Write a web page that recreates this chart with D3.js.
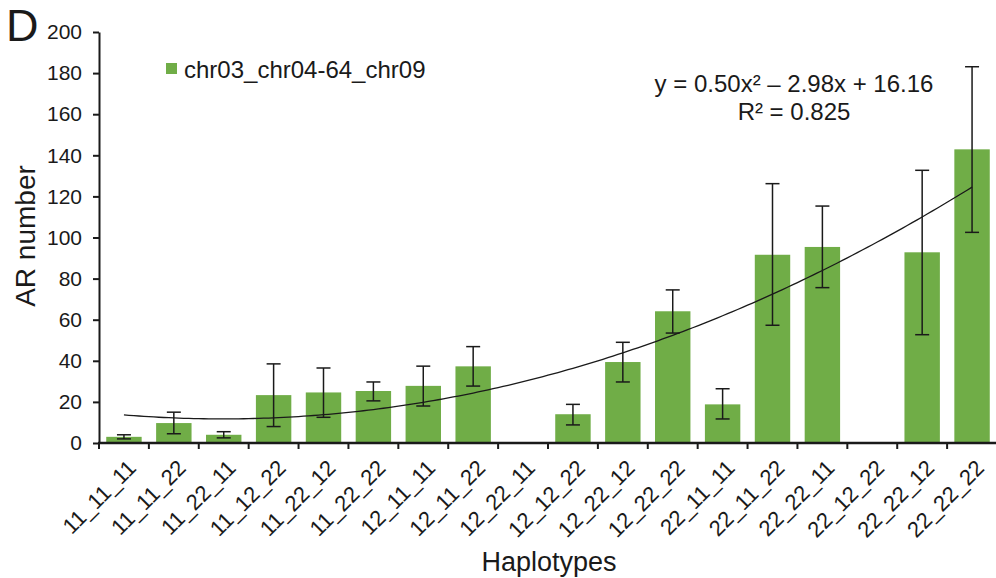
<!DOCTYPE html>
<html>
<head>
<meta charset="utf-8">
<script src="https://cdn.jsdelivr.net/npm/d3@7"></script>
<style>
  body { margin: 0; background: #fff; }
  svg text { font-family: "Liberation Sans", Arial, sans-serif; fill: #1a1a1a; }
</style>
</head>
<body>
<div id="chart"></div>
<script>
// haplotype categories
const haplotypes = ["11_11_11", "11_11_22", "11_22_11", "11_12_22", "11_22_12", "11_22_22",
  "12_11_11", "12_11_22", "12_22_11", "12_12_22", "12_22_12", "12_22_22",
  "22_11_11", "22_11_22", "22_22_11", "22_12_22", "22_22_12", "22_22_22"];
// mean AR number (null = no bar)
const meanAR = [3, 9.7, 4, 23.3, 24.6, 25.3, 27.8, 37.3, null, 14, 39.4, 64.1,
  18.8, 91.6, 95.4, null, 92.8, 142.9];
// error bar ends
const errLow = [2, 4.5, 2.5, 8, 12.5, 20.5, 18, 27.7, null, 8.8, 29.7, 53.5,
  11.7, 57.3, 75.6, null, 52.7, 102.5];
const errHigh = [4, 15, 5.5, 38.5, 36.5, 29.7, 37.4, 46.9, null, 18.8, 49, 74.5,
  26.4, 126.2, 115.3, null, 132.7, 183.1];
const yTicks = [0, 20, 40, 60, 80, 100, 120, 140, 160, 180, 200];
// trendline coefficients shown on the chart (x = category number 1..18)
const trendCoef = [0.50, -2.98, 16.16];

const width = 996, height = 578;
const margin = {left: 99, right: -1, top: 32, bottom: 135};

const svg = d3.select("#chart").append("svg")
  .attr("width", width).attr("height", height);

const x = d3.scaleBand()
  .domain(haplotypes)
  .range([margin.left, width - margin.right])
  .paddingInner(0.29).paddingOuter(0.145);
const xEdge = d3.scaleLinear().domain([0, haplotypes.length])
  .range([margin.left, width - margin.right]);
const y = d3.scaleLinear().domain([0, 200]).range([height - margin.bottom, margin.top]);

const data = haplotypes.map((h, i) => ({h, v: meanAR[i], lo: errLow[i], hi: errHigh[i], i}));

// bars
svg.append("g").selectAll("rect")
  .data(data.filter(d => d.v != null))
  .join("rect")
  .attr("x", d => x(d.h))
  .attr("width", x.bandwidth())
  .attr("y", d => y(d.v))
  .attr("height", d => y(0) - y(d.v))
  .attr("fill", "#70ad47");

// trendline
const cx = i => x(haplotypes[i]) + x.bandwidth() / 2;
const trendPts = d3.range(0, haplotypes.length - 1 + 0.001, 0.1).map(t => {
  const n = t + 1;
  const v = trendCoef[0] * n * n + trendCoef[1] * n + trendCoef[2];
  const px = cx(0) + (cx(haplotypes.length - 1) - cx(0)) * t / (haplotypes.length - 1);
  return [px, y(v)];
});
svg.append("path")
  .attr("d", d3.line()(trendPts))
  .attr("fill", "none").attr("stroke", "#1a1a1a").attr("stroke-width", 1.3);

// error bars
const eb = svg.append("g").attr("stroke", "#1a1a1a").attr("stroke-width", 1.5);
data.filter(d => d.v != null).forEach(d => {
  const c = cx(d.i);
  eb.append("line").attr("x1", c).attr("x2", c).attr("y1", y(d.lo)).attr("y2", y(d.hi));
  eb.append("line").attr("x1", c - 7).attr("x2", c + 7).attr("y1", y(d.lo)).attr("y2", y(d.lo));
  eb.append("line").attr("x1", c - 7).attr("x2", c + 7).attr("y1", y(d.hi)).attr("y2", y(d.hi));
});

// y axis
const yAxis = svg.append("g")
  .attr("transform", `translate(${margin.left},0)`)
  .call(d3.axisLeft(y).tickValues(yTicks).tickSize(6).tickSizeOuter(0).tickPadding(11));
yAxis.select(".domain").attr("stroke", "#1a1a1a").attr("stroke-width", 2);
yAxis.selectAll(".tick line").attr("stroke", "#1a1a1a").attr("stroke-width", 2);
yAxis.selectAll(".tick text").attr("font-size", 21).attr("fill", "#1a1a1a")
  .style("font-family", "Liberation Sans, Arial, sans-serif");

// x axis (line + ticks between categories)
const xg = svg.append("g");
xg.append("line")
  .attr("x1", margin.left - 1).attr("x2", width - margin.right)
  .attr("y1", y(0)).attr("y2", y(0))
  .attr("stroke", "#1a1a1a").attr("stroke-width", 2.5);
xg.selectAll(".xt").data(d3.range(0, haplotypes.length + 1))
  .join("line")
  .attr("x1", d => xEdge(d)).attr("x2", d => xEdge(d))
  .attr("y1", y(0)).attr("y2", y(0) + 6)
  .attr("stroke", "#1a1a1a").attr("stroke-width", 2);
xg.selectAll(".xl").data(haplotypes)
  .join("text")
  .attr("transform", d => `translate(${x(d) + x.bandwidth() / 2 + 8},${y(0) + 21}) rotate(-45)`)
  .attr("text-anchor", "end")
  .attr("dy", "0.35em")
  .attr("font-size", 22)
  .text(d => d);

// titles
svg.append("text")
  .attr("transform", `translate(35,236) rotate(-90)`)
  .attr("text-anchor", "middle")
  .attr("font-size", 28)
  .text("AR number");
svg.append("text")
  .attr("x", 549).attr("y", 571)
  .attr("text-anchor", "middle")
  .attr("font-size", 27)
  .text("Haplotypes");
svg.append("text")
  .attr("x", 6).attr("y", 41)
  .attr("font-size", 45)
  .text("D");

// legend
svg.append("rect").attr("x", 166).attr("y", 63).attr("width", 11).attr("height", 11)
  .attr("fill", "#70ad47");
svg.append("text").attr("x", 184).attr("y", 78).attr("font-size", 24)
  .text("chr03_chr04-64_chr09");

// equation
svg.append("text").attr("x", 794).attr("y", 92).attr("text-anchor", "middle")
  .attr("font-size", 24)
  .text("y = 0.50x² – 2.98x + 16.16");
svg.append("text").attr("x", 794).attr("y", 120).attr("text-anchor", "middle")
  .attr("font-size", 24)
  .text("R² = 0.825");
</script>
</body>
</html>
